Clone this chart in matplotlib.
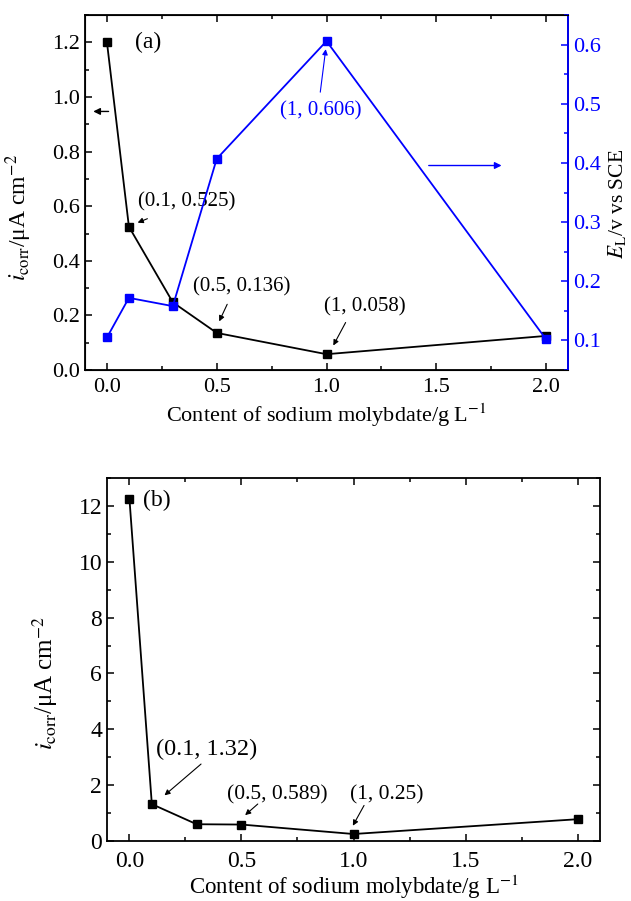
import matplotlib
matplotlib.use("Agg")
import matplotlib.pyplot as plt
from matplotlib.ticker import MultipleLocator

plt.rcParams["font.family"] = ["Liberation Serif", "DejaVu Serif"]
plt.rcParams["mathtext.fontset"] = "stix"

# molybdate content (g/L)
content = [0.0, 0.1, 0.3, 0.5, 1.0, 2.0]

# panel (a)
icorr_a = [1.20, 0.525, 0.248, 0.136, 0.058, 0.125]
el_a = [0.105, 0.172, 0.158, 0.407, 0.606, 0.102]

# panel (b)
icorr_b = [12.26, 1.32, 0.60, 0.589, 0.25, 0.78]

blue = "#0000ff"
xlabel = "Content of sodium molybdate/g L$^{-1}$"
xticks = [0, 0.5, 1.0, 1.5, 2.0]
xticklabels = ["0.0", "0.5", "1.0", "1.5", "2.0"]


def style_ticks(ax, right=True):
    ax.tick_params(which="both", direction="in", top=True, right=right, width=1.1)
    ax.tick_params(which="major", length=5)
    ax.tick_params(which="minor", length=3)
    for s in ax.spines.values():
        s.set_linewidth(1.3)


def arrow(ax, start, end, color="k", lw=0.8, ms=8):
    ax.annotate("", xy=end, xytext=start,
                arrowprops=dict(arrowstyle="-|>", color=color, lw=lw, mutation_scale=ms))


fig = plt.figure(figsize=(6.31, 9.01), dpi=100)

# ---- (a) ----
ax1 = fig.add_axes([0.1347, 0.5893, 0.7655, 0.394])
ax1.plot(content, icorr_a, "k-", marker="s", ms=6, lw=1.3)
ax1.set_xlim(-0.1, 2.1)
ax1.set_ylim(0, 1.3)
ax1.set_xticks(xticks)
ax1.set_xticklabels(xticklabels)
ax1.xaxis.set_minor_locator(MultipleLocator(0.25))
ax1.yaxis.set_major_locator(MultipleLocator(0.2))
ax1.yaxis.set_minor_locator(MultipleLocator(0.1))
style_ticks(ax1, right=False)
ax1.tick_params(labelsize=16)
ax1.tick_params(axis="x", pad=6)
ax1.set_xlabel(xlabel, fontsize=16)
ax1.set_ylabel(r"$i_{\rm corr}$/μA cm$^{-2}$", fontsize=17)
ax1.yaxis.set_label_coords(-0.105, 0.43)
ax1.xaxis.set_label_coords(0.5, -0.09)

ax2 = ax1.twinx()
ax2.plot(content, el_a, "-", color=blue, marker="s", ms=6, lw=1.3)
ax2.set_ylim(0.05, 0.65)
ax2.yaxis.set_major_locator(MultipleLocator(0.1))
ax2.yaxis.set_minor_locator(MultipleLocator(0.05))
ax2.tick_params(which="both", direction="in", colors=blue, labelsize=16, width=1.1)
ax2.tick_params(which="major", length=5)
ax2.tick_params(which="minor", length=3)
ax2.spines["right"].set_color(blue)
ax2.spines["right"].set_linewidth(1.3)
ax2.set_ylabel(r"$E_{\rm L}$/v vs SCE", fontsize=15.5)
ax2.yaxis.set_label_coords(1.079, 0.467)

ax1.text(0.128, 1.2, "(a)", fontsize=17, va="center")
arrow(ax1, (0.02, 0.947), (-0.075, 0.947), lw=1.0, ms=10)
arrow(ax1, (1.453, 0.749), (1.81, 0.749), color=blue, lw=1.0, ms=10)

notes_a = [("(0.1, 0.525)", (0.364, 0.617), (0.196, 0.558), (0.128, 0.536)),
           ("(0.5, 0.136)", (0.615, 0.305), (0.553, 0.250), (0.506, 0.169)),
           ("(1, 0.058)", (1.175, 0.231), (1.093, 0.183), (1.025, 0.081))]
for txt, tp, a0, a1 in notes_a:
    ax1.text(tp[0], tp[1], txt, fontsize=15, ha="center", va="center")
    arrow(ax1, a0, a1)

ax2.text(0.975, 0.488, "(1, 0.606)", fontsize=15, ha="center", va="center", color=blue)
arrow(ax2, (0.970, 0.515), (0.998, 0.597), color=blue)

# ---- (b) ----
ax3 = fig.add_axes([0.1696, 0.0666, 0.7813, 0.4029])
ax3.plot(content, icorr_b, "k-", marker="s", ms=6, lw=1.3)
ax3.set_xlim(-0.1, 2.1)
ax3.set_ylim(0, 13)
ax3.set_xticks(xticks)
ax3.set_xticklabels(xticklabels)
ax3.xaxis.set_minor_locator(MultipleLocator(0.25))
ax3.yaxis.set_major_locator(MultipleLocator(2))
ax3.yaxis.set_minor_locator(MultipleLocator(1))
style_ticks(ax3)
ax3.tick_params(labelsize=17)
ax3.tick_params(axis="x", pad=7)
ax3.set_xlabel(xlabel, fontsize=16.5)
ax3.set_ylabel(r"$i_{\rm corr}$/μA cm$^{-2}$", fontsize=18)
ax3.yaxis.set_label_coords(-0.095, 0.435)
ax3.xaxis.set_label_coords(0.5, -0.088)
ax3.text(0.062, 12.18, "(b)", fontsize=17, va="center")

notes_b = [("(0.1, 1.32)", (0.344, 3.28), (0.329, 2.82), (0.147, 1.57), 17.5),
           ("(0.5, 0.589)", (0.658, 1.64), (0.582, 1.39), (0.507, 0.86), 15.5),
           ("(1, 0.25)", (1.147, 1.64), (1.053, 1.36), (0.991, 0.46), 15.5)]
for txt, tp, a0, a1, fs in notes_b:
    ax3.text(tp[0], tp[1], txt, fontsize=fs, ha="center", va="center")
    arrow(ax3, a0, a1)

fig.savefig("out.png", dpi=100)
